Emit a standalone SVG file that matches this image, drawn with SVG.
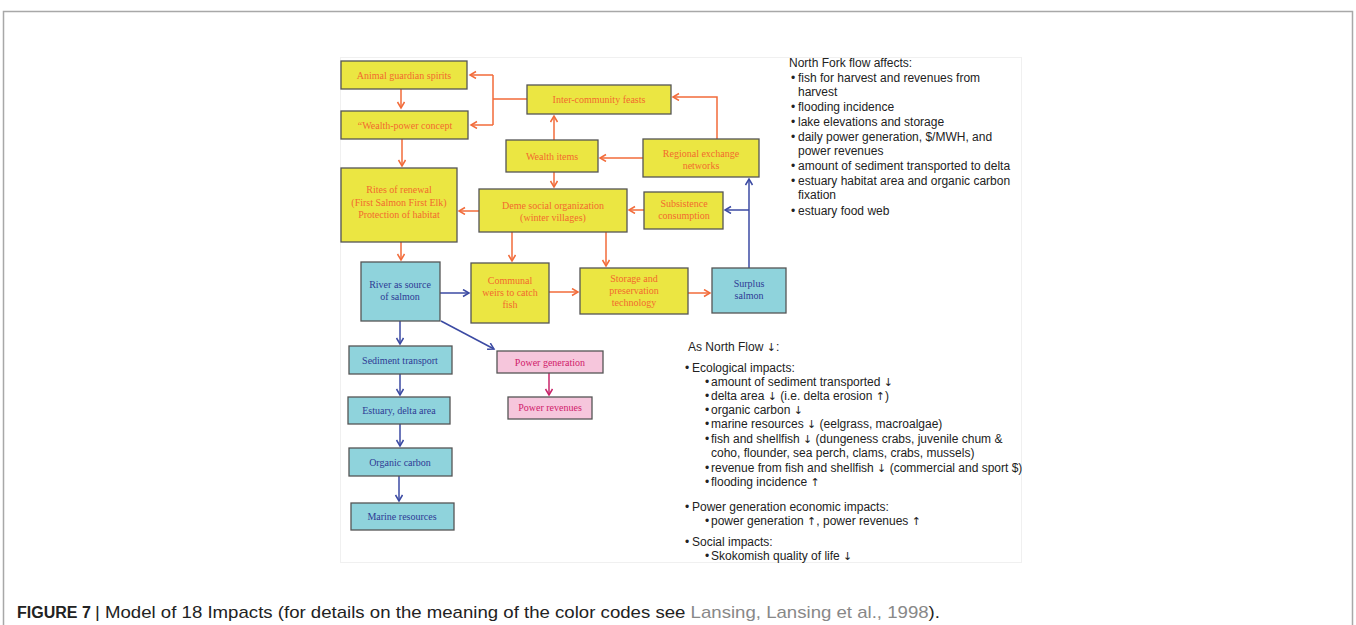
<svg xmlns="http://www.w3.org/2000/svg" width="1356" height="625" viewBox="0 0 1356 625">
<style>
.y{fill:#ebe642;stroke:#555;stroke-width:1.3}
.c{fill:#8fd3dc;stroke:#555;stroke-width:1.3}
.p{fill:#f6c6dc;stroke:#555;stroke-width:1.3}
.ty{font-family:"Liberation Serif",serif;font-size:10px;fill:#f26a2e;text-anchor:middle}
.tc{font-family:"Liberation Serif",serif;font-size:10px;fill:#2e3a94;text-anchor:middle}
.tp{font-family:"Liberation Serif",serif;font-size:10px;fill:#d0206a;text-anchor:middle}
.o{stroke:#f26b3a;stroke-width:1.5;fill:none}
.b{stroke:#3b4aa3;stroke-width:1.5;fill:none}
.r{stroke:#c8246a;stroke-width:1.5;fill:none}
.tx{font-family:"Liberation Sans",Arial,sans-serif;font-size:12px;fill:#222}
.ar{font-family:"DejaVu Sans",sans-serif;font-size:11px}
</style>
<defs>
<marker id="ao" markerWidth="10" markerHeight="10" refX="7" refY="4" orient="auto" markerUnits="userSpaceOnUse"><path d="M1,0.5 L7,4 L1,7.5" fill="none" stroke="#f26b3a" stroke-width="1.5"/></marker>
<marker id="ab" markerWidth="10" markerHeight="10" refX="7" refY="4" orient="auto" markerUnits="userSpaceOnUse"><path d="M1,0.5 L7,4 L1,7.5" fill="none" stroke="#3b4aa3" stroke-width="1.5"/></marker>
<marker id="ar" markerWidth="10" markerHeight="10" refX="7" refY="4" orient="auto" markerUnits="userSpaceOnUse"><path d="M1,0.5 L7,4 L1,7.5" fill="none" stroke="#c8246a" stroke-width="1.5"/></marker>
</defs>
<rect x="0" y="0" width="1356" height="625" fill="#fff"/>
<path d="M3.5,640 V11.5 H1352.5 V640" fill="none" stroke="#a8a8a8" stroke-width="1.5"/>
<rect x="340.5" y="57.5" width="681" height="505" fill="#fff" stroke="#f0f0f0" stroke-width="1"/>

<g id="connectors">
<path class="o" d="M401,89 V108" marker-end="url(#ao)"/>
<path class="o" d="M527,99 H493 M493,75 V125 M493,75 H470" marker-end="url(#ao)"/>
<path class="o" d="M493,125 H471" marker-end="url(#ao)"/>
<path class="o" d="M402,139 V166" marker-end="url(#ao)"/>
<path class="o" d="M554,140 V116" marker-end="url(#ao)"/>
<path class="o" d="M554,172 V187" marker-end="url(#ao)"/>
<path class="o" d="M643,158 H600" marker-end="url(#ao)"/>
<path class="o" d="M717,140 V97 H673" marker-end="url(#ao)"/>
<path class="o" d="M644,210 H629" marker-end="url(#ao)"/>
<path class="o" d="M479,211 H459" marker-end="url(#ao)"/>
<path class="b" d="M749,268 V179" marker-end="url(#ab)"/>
<path class="b" d="M749,210 H725" marker-end="url(#ab)"/>
<path class="o" d="M401,242 V260" marker-end="url(#ao)"/>
<path class="o" d="M512,232 V261" marker-end="url(#ao)"/>
<path class="o" d="M606,232 V266" marker-end="url(#ao)"/>
<path class="b" d="M440,293 H469" marker-end="url(#ab)"/>
<path class="o" d="M549,292 H578" marker-end="url(#ao)"/>
<path class="o" d="M688,293 H710" marker-end="url(#ao)"/>
<path class="b" d="M400,321 V344" marker-end="url(#ab)"/>
<path class="b" d="M441,321 L494,349" marker-end="url(#ab)"/>
<path class="b" d="M400,374 V395" marker-end="url(#ab)"/>
<path class="b" d="M400,424 V446" marker-end="url(#ab)"/>
<path class="b" d="M399,476 V501" marker-end="url(#ab)"/>
<path class="r" d="M549,373 V395" marker-end="url(#ar)"/>
</g>

<g id="animal"><rect class="y" x="341" y="61" width="126" height="28"/><text class="ty" x="404" y="78.5">Animal guardian spirits</text></g>
<g id="wealthpower"><rect class="y" x="341" y="111" width="127" height="28"/><text class="ty" x="405" y="128.5">“Wealth-power concept</text></g>
<g id="rites"><rect class="y" x="341" y="168" width="116" height="74"/><text class="ty" x="399" y="193">Rites of renewal</text><text class="ty" x="399" y="206">(First Salmon First Elk)</text><text class="ty" x="399" y="218">Protection of habitat</text></g>
<g id="feasts"><rect class="y" x="527" y="85" width="144" height="29"/><text class="ty" x="599" y="103">Inter-community feasts</text></g>
<g id="wealthitems"><rect class="y" x="506" y="140" width="92" height="32"/><text class="ty" x="552" y="159.5">Wealth items</text></g>
<g id="regional"><rect class="y" x="643" y="139" width="116" height="38"/><text class="ty" x="701" y="157">Regional exchange</text><text class="ty" x="701" y="169">networks</text></g>
<g id="deme"><rect class="y" x="479" y="189" width="148" height="43"/><text class="ty" x="553" y="208.5">Deme social organization</text><text class="ty" x="553" y="220.5">(winter villages)</text></g>
<g id="subsistence"><rect class="y" x="644" y="192" width="79" height="37"/><text class="ty" x="684" y="206.5">Subsistence</text><text class="ty" x="684" y="218.5">consumption</text></g>
<g id="river"><rect class="c" x="361" y="262" width="79" height="59"/><text class="tc" x="400" y="287.5">River as source</text><text class="tc" x="400" y="299.5">of salmon</text></g>
<g id="weirs"><rect class="y" x="471" y="263" width="78" height="60"/><text class="ty" x="510" y="283.5">Communal</text><text class="ty" x="510" y="295.5">weirs to catch</text><text class="ty" x="510" y="307.5">fish</text></g>
<g id="storage"><rect class="y" x="580" y="268" width="108" height="46"/><text class="ty" x="634" y="281.5">Storage and</text><text class="ty" x="634" y="293.5">preservation</text><text class="ty" x="634" y="305.5">technology</text></g>
<g id="surplus"><rect class="c" x="712" y="268" width="74" height="45"/><text class="tc" x="749" y="286.5">Surplus</text><text class="tc" x="749" y="299">salmon</text></g>
<g id="sediment"><rect class="c" x="349" y="346" width="103" height="28"/><text class="tc" x="400" y="363.5">Sediment transport</text></g>
<g id="estuary"><rect class="c" x="348" y="397" width="102" height="27"/><text class="tc" x="399" y="413.5">Estuary, delta area</text></g>
<g id="organic"><rect class="c" x="349" y="448" width="103" height="28"/><text class="tc" x="400" y="465.5">Organic carbon</text></g>
<g id="marine"><rect class="c" x="351" y="503" width="103" height="27"/><text class="tc" x="402" y="519.5">Marine resources</text></g>
<g id="powergen"><rect class="p" x="497" y="351" width="106" height="22"/><text class="tp" x="550" y="365.5">Power generation</text></g>
<g id="powerrev"><rect class="p" x="508" y="397" width="84" height="22"/><text class="tp" x="550" y="410.5">Power revenues</text></g>

<g id="notes1" class="tx">
<text x="789" y="67">North Fork flow affects:</text>
<text x="791" y="82">•</text><text x="798" y="82">fish for harvest and revenues from</text>
<text x="798" y="96">harvest</text>
<text x="791" y="111">•</text><text x="798" y="111">flooding incidence</text>
<text x="791" y="126">•</text><text x="798" y="126">lake elevations and storage</text>
<text x="791" y="141">•</text><text x="798" y="141">daily power generation, $/MWH, and</text>
<text x="798" y="155">power revenues</text>
<text x="791" y="170">•</text><text x="798" y="170">amount of sediment transported to delta</text>
<text x="791" y="185">•</text><text x="798" y="185">estuary habitat area and organic carbon</text>
<text x="798" y="199">fixation</text>
<text x="791" y="215">•</text><text x="798" y="215">estuary food web</text>
</g>
<g id="notes2" class="tx">
<text x="688" y="351">As North Flow <tspan class="ar">↓</tspan>:</text>
<text x="685" y="372">•</text><text x="692" y="372">Ecological impacts:</text>
<text x="705" y="386">•</text><text x="711" y="386">amount of sediment transported <tspan class="ar">↓</tspan></text>
<text x="705" y="400">•</text><text x="711" y="400">delta area <tspan class="ar">↓</tspan> (i.e. delta erosion <tspan class="ar">↑</tspan>)</text>
<text x="705" y="414">•</text><text x="711" y="414">organic carbon <tspan class="ar">↓</tspan></text>
<text x="705" y="428">•</text><text x="711" y="428">marine resources <tspan class="ar">↓</tspan> (eelgrass, macroalgae)</text>
<text x="705" y="443">•</text><text x="711" y="443">fish and shellfish <tspan class="ar">↓</tspan> (dungeness crabs, juvenile chum &amp;</text>
<text x="711" y="457">coho, flounder, sea perch, clams, crabs, mussels)</text>
<text x="705" y="472">•</text><text x="711" y="472">revenue from fish and shellfish <tspan class="ar">↓</tspan> (commercial and sport $)</text>
<text x="705" y="486">•</text><text x="711" y="486">flooding incidence <tspan class="ar">↑</tspan></text>
<text x="685" y="511">•</text><text x="692" y="511">Power generation economic impacts:</text>
<text x="705" y="525">•</text><text x="711" y="525">power generation <tspan class="ar">↑</tspan>, power revenues <tspan class="ar">↑</tspan></text>
<text x="685" y="546">•</text><text x="692" y="546">Social impacts:</text>
<text x="705" y="560">•</text><text x="711" y="560">Skokomish quality of life <tspan class="ar">↓</tspan></text>
</g>

<g id="caption" font-family="'Liberation Sans',Arial,sans-serif" fill="#222">
<text x="17" y="618" font-size="16" font-weight="bold">FIGURE 7</text>
<text x="95" y="618" font-size="17" textLength="845" lengthAdjust="spacingAndGlyphs">| Model of 18 Impacts (for details on the meaning of the color codes see <tspan fill="#888">Lansing, Lansing et al., 1998</tspan>).</text>
</g>
</svg>
